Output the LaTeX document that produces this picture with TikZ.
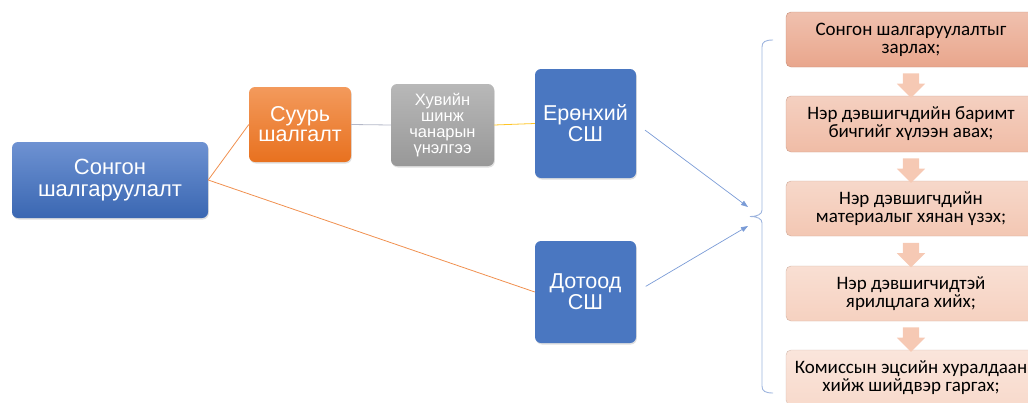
\documentclass[tikz,border=0pt]{standalone}
\usepackage{fontspec}
\setmainfont{Liberation Sans}
\newfontfamily\calfont{Carlito}
\usetikzlibrary{arrows.meta,shapes.arrows,shadows,calc}
\definecolor{blueTop}{HTML}{6E92D2}
\definecolor{blueBot}{HTML}{3A67B2}
\definecolor{blueFill}{HTML}{4A77C1}
\definecolor{orTop}{HTML}{F39A5C}
\definecolor{orBot}{HTML}{E8711F}
\definecolor{grTop}{HTML}{B8B8B8}
\definecolor{grBot}{HTML}{989898}
\definecolor{orLine}{HTML}{F0904F}
\definecolor{yeLine}{HTML}{FFC526}
\definecolor{grLine}{HTML}{B4B8C8}
\definecolor{arLine}{HTML}{7A9BD6}
\definecolor{brLine}{HTML}{9DB4DE}
\definecolor{sA}{HTML}{E9A68C}
\definecolor{sB}{HTML}{F0BCA6}
\definecolor{sC}{HTML}{F3C7B3}
\definecolor{sD}{HTML}{F6D1C0}
\definecolor{sE}{HTML}{F8DACC}
\definecolor{dArr}{HTML}{F6C9B4}
\begin{document}
\begin{tikzpicture}[x=1pt,y=-1pt,
	box/.style={rounded corners=6pt,text=white,align=center,inner sep=0pt,
		drop shadow={opacity=0.25,shadow xshift=0.8pt,shadow yshift=-1.5pt}},
	stepbox/.style={rounded corners=5pt,draw=#1!85!black,line width=0.4pt,
		top color=#1!70!white,bottom color=#1,align=center,inner sep=0pt,
		minimum width=250,minimum height=55,text=black,
		font=\calfont\fontsize{19}{18}\selectfont},
	downarr/.style={single arrow,rotate=-90,fill=dArr,draw=none,
		minimum height=21,minimum width=28,inner sep=8,
		single arrow head extend=6,single arrow tip angle=90},
	link/.style={line width=0.8pt}]
\useasboundingbox (0,0) rectangle (1028,402);
% left part
\node[box,top color=blueTop,bottom color=blueBot,minimum width=196,minimum height=76,
	font=\fontsize{22}{22}\selectfont] (songon) at (110,180) {Сонгон\\шалгаруулалт};
\node[box,top color=orTop,bottom color=orBot,minimum width=102,minimum height=75,
	font=\fontsize{21.5}{20}\selectfont] (suur) at (300,124.5) {Суурь\\шалгалт};
\node[box,top color=grTop,bottom color=grBot,minimum width=103,minimum height=82,
	font=\fontsize{16.5}{16}\selectfont] (huv) at (442.5,125) {Хувийн\\шинж\\чанарын\\үнэлгээ};
\node[box,fill=blueFill,minimum width=101,minimum height=109,
	font=\fontsize{21.5}{21}\selectfont] (erh) at (585.5,123.5) {Ерөнхий\\СШ};
\node[box,fill=blueFill,minimum width=101,minimum height=102,
	font=\fontsize{21.5}{21}\selectfont] (dot) at (585.5,292) {Дотоод\\СШ};
\draw[link,orLine] (songon.east)--(suur.west);
\draw[link,orLine] (songon.east)--(dot.west);
\draw[link,grLine] (suur.east)--(huv.west);
\draw[link,yeLine] (huv.east)--(erh.west);
% brace
\coordinate (tip) at (750,216.5);
\coordinate (btop) at (773,40);
\coordinate (bbot) at (773,393);
\draw[brLine,line width=0.9pt] (btop) .. controls (765,40) and (762,42) .. (762,47)
	-- (762,210) .. controls (762,214) and (758,216.5) .. (tip)
	.. controls (758,216.5) and (762,219) .. (762,223)
	-- (762,386) .. controls (762,391) and (765,393) .. (bbot);
\coordinate (ta) at (748,207);
\coordinate (tb) at (748,226);
\draw[arLine,line width=0.7pt,-{Triangle[length=7pt,width=5pt]},shorten <=11pt] (erh.east)--(ta);
\draw[arLine,line width=0.7pt,-{Triangle[length=7pt,width=5pt]},shorten <=11pt] (dot.east)--(tb);
% steps
\node[stepbox=sA] (s1) at (911,39.5) {Сонгон шалгаруулалтыг\\зарлах;};
\node[stepbox=sB,minimum height=56] (s2) at (911,124) {Нэр дэвшигчдийн баримт\\бичгийг хүлээн авах;};
\node[stepbox=sC] (s3) at (911,208.5) {Нэр дэвшигчдийн\\материалыг хянан үзэх;};
\node[stepbox=sD] (s4) at (911,293.5) {Нэр дэвшигчидтэй\\ярилцлага хийх;};
\node[stepbox=sE] (s5) at (911,377.5) {Комиссын эцсийн хуралдаан\\хийж шийдвэр гаргах;};
\node[downarr] (d1) at ($(s1.south)!0.5!(s2.north)$) {};
\node[downarr] (d2) at ($(s2.south)!0.5!(s3.north)$) {};
\node[downarr] (d3) at ($(s3.south)!0.5!(s4.north)$) {};
\node[downarr] (d4) at ($(s4.south)!0.5!(s5.north)$) {};
\end{tikzpicture}
\end{document}
